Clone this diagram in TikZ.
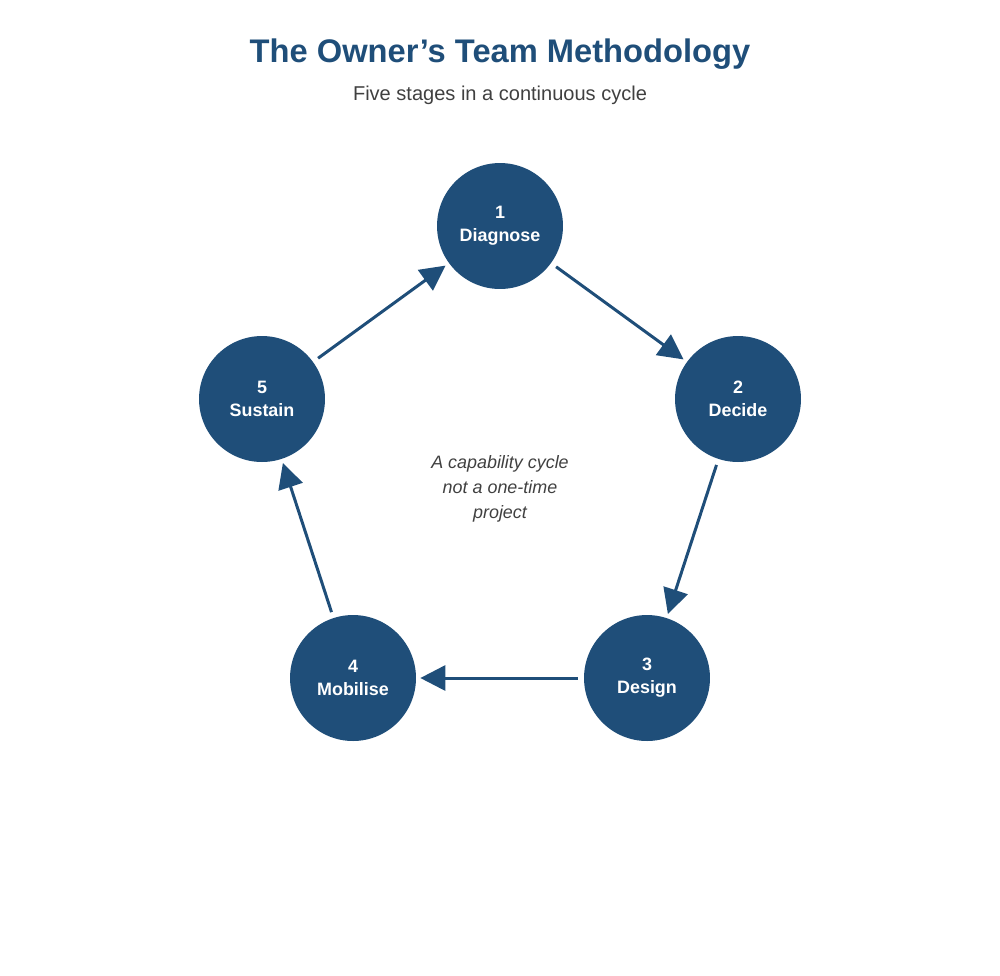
\documentclass[tikz,border=0pt]{standalone}
\usepackage{fontspec}
\setmainfont{Liberation Sans}
\usetikzlibrary{arrows.meta}
\definecolor{stageblue}{HTML}{1F4E79}
\definecolor{textgray}{HTML}{404040}
\tikzset{
  stage/.style={circle,fill=stageblue,minimum size=2.52cm,inner sep=0pt,
    text=white,font=\bfseries\fontsize{10.2}{13}\selectfont,align=center},
  flow/.style={draw=stageblue,line width=1.7pt,
    -{Triangle[length=0.5cm,width=0.5cm]},shorten <=0.12cm,shorten >=0.08cm}
}
\begin{document}
\begin{tikzpicture}[x=0.02cm,y=-0.02cm]
  \useasboundingbox (0,0) rectangle (1000,975);
  % heading
  \node[text=stageblue,font=\bfseries\fontsize{18.6}{22}\selectfont] (title) at (500,54) {The Owner’s Team Methodology};
  \node[text=textgray,font=\fontsize{11.4}{14}\selectfont] (subtitle) at (500,95) {Five stages in a continuous cycle};

  % the five stages
  \node[stage] (s1) at (500,226) {1\\Diagnose};
  \node[stage] (s2) at (738,399) {2\\Decide};
  \node[stage] (s3) at (647,678) {3\\Design};
  \node[stage] (s4) at (353,678) {4\\Mobilise};
  \node[stage] (s5) at (262,399) {5\\Sustain};

  \node[text=textgray,font=\itshape\fontsize{10.2}{14.2}\selectfont,align=center] (core) at (500,489)
    {A capability cycle\\not a one-time\\project};

  \foreach \a/\b in {s1/s2,s2/s3,s3/s4,s4/s5,s5/s1}
    \draw[flow] (\a) -- (\b);
\end{tikzpicture}
\end{document}
